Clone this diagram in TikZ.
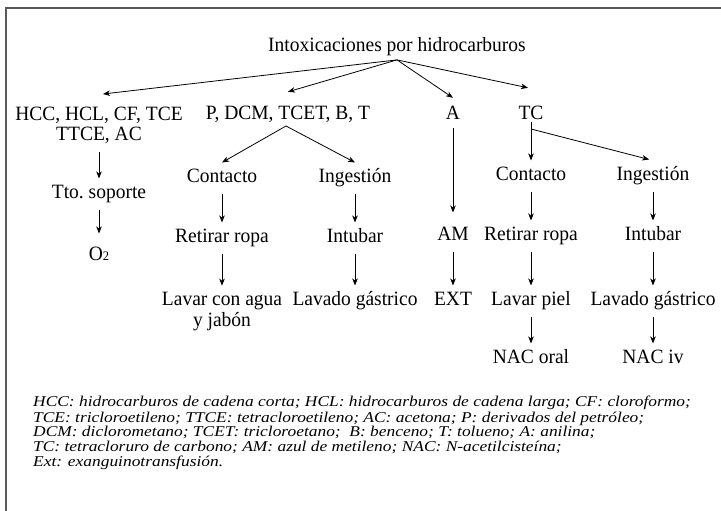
\documentclass[tikz,border=0pt]{standalone}
\usepackage{fontspec}
\setmainfont{Liberation Serif}[FakeStretch=0.96]
\newfontfamily\notefont{Liberation Serif}[FakeStretch=1.16]
\usetikzlibrary{arrows.meta}

\begin{document}
\begin{tikzpicture}[x=1pt,y=-1pt,
  every node/.style={font=\fontsize{20.3}{19}\selectfont, inner xsep=0pt},
  lbl/.style={text height=13.3pt, text depth=5.7pt, inner ysep=6pt, anchor=base},
  multi/.style={align=center, inner ysep=6pt, anchor=north},
  arr/.style={-{Stealth[length=7pt,width=5.5pt,inset=2pt]}, line width=0.8pt},
  link/.style={line width=0.8pt},
  frameline/.style={line width=1.6pt, draw=black!65}]

\useasboundingbox (0,0) rectangle (721,511);

% open frame: top and left rules
\draw[frameline] (721,8) -- (6,8) -- (6,511);

% root and first level
\node[lbl, inner ysep=2pt] (root) at (397,52) {Intoxicaciones por hidrocarburos};
\node[multi] (hcc) at (99,100.7) {\strut HCC, HCL, CF, TCE\\\strut TTCE, AC};
\node[lbl] (p) at (288,120) {P, DCM, TCET, B, T};
\node[lbl] (a) at (453,120) {A};
\node[lbl, text depth=2pt, inner ysep=0pt] (tc) at (531,120) {TC};

\coordinate (pf) at (286,126);
\coordinate (tcf) at (531,129);

% short-chain / chlorinated branch
\node[lbl] (tto) at (99,198) {Tto.\ soporte};
\node[lbl] (o2) at (99,260) {O{\fontsize{13}{13}\selectfont 2}};

% petroleum branch
\node[lbl] (c1) at (222,182) {Contacto};
\node[lbl] (i1) at (355,182) {Ingestión};
\node[lbl] (r1) at (222,242) {Retirar ropa};
\node[lbl] (n1) at (355,242) {Intubar};
\node[multi] (w1) at (222,285.7) {\strut Lavar con agua\\\strut y jabón};
\node[lbl] (g1) at (355,305) {Lavado gástrico};

% aniline branch
\node[lbl] (am) at (453,240) {AM};
\node[lbl] (ext) at (453,305) {EXT};

% carbon tetrachloride branch
\node[lbl] (c2) at (531,180) {Contacto};
\node[lbl] (i2) at (653,180) {Ingestión};
\node[lbl] (r2) at (531,240) {Retirar ropa};
\node[lbl] (n2) at (653,240) {Intubar};
\node[lbl] (w2) at (531,305) {Lavar piel};
\node[lbl] (g2) at (653,305) {Lavado gástrico};
\node[lbl] (v1) at (531,363) {NAC oral};
\node[lbl] (v2) at (653,363) {NAC iv};

% connectors
\draw[arr] (root.south) -- ([xshift=4pt,yshift=6.7pt]hcc.north);
\draw[arr] (root.south) -- ([yshift=8.7pt]p.north);
\draw[arr] (root.south) -- ([yshift=2.7pt]a.north);
\draw[arr] (root.south) -- ([xshift=-3pt,yshift=18.7pt]tc.north);

\draw[arr] (hcc.south) -- (tto.north);
\draw[arr] (tto.south) -- ([yshift=7pt]o2.north);

\draw[arr] (pf) -- (c1.north);
\draw[arr] (pf) -- (i1.north);
\draw[arr] (c1.south) -- (r1.north);
\draw[arr] (r1.south) -- (w1.north);
\draw[arr] (i1.south) -- (n1.north);
\draw[arr] (n1.south) -- (g1.north);

\draw[arr] ([yshift=4pt]a.south) -- ([yshift=8pt]am.north);
\draw[arr] (am.south) -- (ext.north);

\draw[link] (tc.south) -- (tcf);
\draw[arr] (tcf) -- (c2.north);
\draw[arr, shorten >=4pt] (tcf) -- (i2.north);
\draw[arr] (c2.south) -- (r2.north);
\draw[arr] (r2.south) -- (w2.north);
\draw[arr] (w2.south) -- (v1.north);
\draw[arr] (i2.south) -- (n2.north);
\draw[arr] (n2.south) -- (g2.north);
\draw[arr] (g2.south) -- (v2.north);

% abbreviations
\node[anchor=north west, align=left, inner sep=0pt,
      font=\notefont\itshape\fontsize{15}{14.6}\selectfont] (note) at (33,395.8)
  {\strut HCC: hidrocarburos de cadena corta; HCL: hidrocarburos de cadena larga; CF: cloroformo;\\
   TCE: tricloroetileno; TTCE: tetracloroetileno; AC: acetona; P: derivados del petróleo;\\
   DCM: diclorometano; TCET: tricloroetano;\ \ B: benceno; T: tolueno; A: anilina;\\
   TC: tetracloruro de carbono; AM: azul de metileno; NAC: N-acetilcisteína;\\
   Ext: exanguinotransfusión.};

\end{tikzpicture}
\end{document}
